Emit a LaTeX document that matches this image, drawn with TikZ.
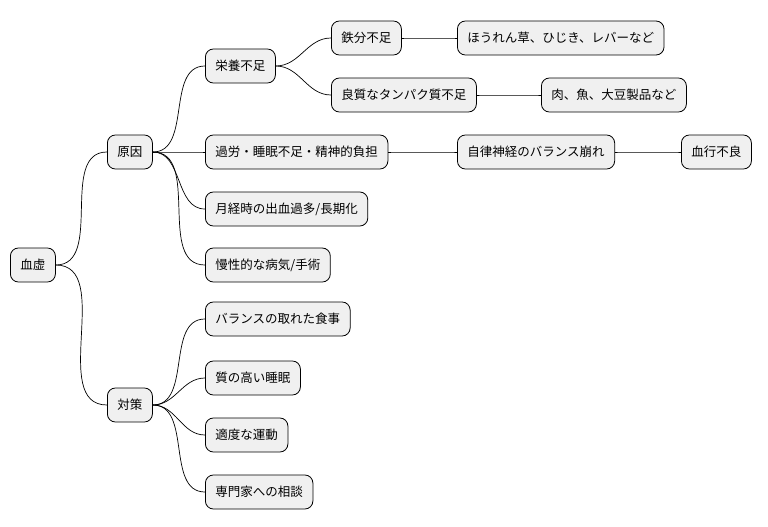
\documentclass[tikz,border=0pt]{standalone}
\usepackage{fontspec}
\setmainfont{Noto Sans CJK JP}
\begin{document}
\begin{tikzpicture}[x=1pt,y=-1pt,
 box/.style={draw=black,line width=0.8pt,fill=black!6,rounded corners=8pt,minimum height=34pt,inner xsep=10pt,anchor=west,font=\fontsize{12.5}{14}\selectfont},
 ln/.style={line width=0.7pt}]
\useasboundingbox (0,0) rectangle (768,527);
\node[box] (a) at (10,265) {血虚};
\node[box] (b) at (107,152) {原因};
\node[box] (c) at (107,405) {対策};
\node[box] (b1) at (205,66) {栄養不足};
\node[box] (b2) at (205,152) {過労・睡眠不足・精神的負担};
\node[box] (b3) at (205,209) {月経時の出血過多/長期化};
\node[box] (b4) at (205,265) {慢性的な病気/手術};
\node[box] (b11) at (331,38) {鉄分不足};
\node[box] (b12) at (331,95) {良質なタンパク質不足};
\node[box] (b111) at (457,38) {ほうれん草、ひじき、レバーなど};
\node[box] (b121) at (541,95) {肉、魚、大豆製品など};
\node[box] (b21) at (457,152) {自律神経のバランス崩れ};
\node[box] (b211) at (681,152) {血行不良};
\node[box] (c1) at (205,319) {バランスの取れた食事};
\node[box] (c2) at (205,378) {質の高い睡眠};
\node[box] (c3) at (205,435) {適度な運動};
\node[box] (c4) at (205,492) {専門家への相談};
\foreach \p/\c in {a/b,a/c,b/b1,b/b2,b/b3,b/b4,b1/b11,b1/b12,b2/b21,b21/b211,b11/b111,b12/b121,c/c1,c/c2,c/c3,c/c4}
  \draw[ln] (\p.east) to[out=0,in=180] (\c.west);
\end{tikzpicture}
\end{document}
